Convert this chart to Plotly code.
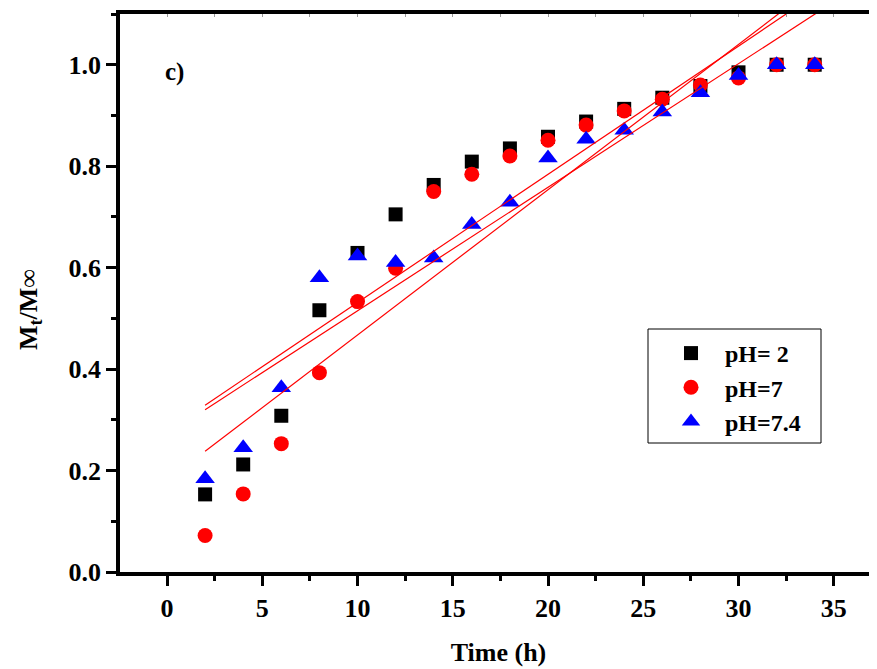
import plotly.graph_objects as go

# ---- data ----
time_h = [2, 4, 6, 8, 10, 12, 14, 16, 18, 20, 22, 24, 26, 28, 30, 32, 34]
ph2 = [0.153, 0.212, 0.308, 0.516, 0.629, 0.705, 0.763, 0.809, 0.835, 0.858,
       0.888, 0.913, 0.935, 0.958, 0.985, 1.0, 1.0]
ph7 = [0.072, 0.154, 0.253, 0.393, 0.533, 0.599, 0.750, 0.784, 0.820, 0.851,
       0.881, 0.909, 0.932, 0.960, 0.974, 1.0, 1.0]
ph74 = [0.184, 0.245, 0.363, 0.580, 0.623, 0.610, 0.619, 0.685, 0.729, 0.816,
        0.853, 0.871, 0.907, 0.945, 0.979, 1.0, 1.0]

series_names = ["pH= 2", "pH=7", "pH=7.4"]
series_colors = ["#000000", "#FF0000", "#0000FF"]
series_symbols = ["square", "circle", "triangle-up"]
series_sizes = [14, 15, 17]

# linear fit lines (intercept, slope), drawn from t=2 onward
fit_intercepts = [0.2784, 0.2713, 0.1807]
fit_slopes = [0.02528, 0.02436, 0.02865]
fit_x = [2, 36]

x_ticks = [0, 5, 10, 15, 20, 25, 30, 35]
y_ticks = [0.0, 0.2, 0.4, 0.6, 0.8, 1.0]

FONT = "Liberation Serif, Times New Roman, serif"

# figure geometry (page has an 8px body margin)
W, H = 869, 661
ML, MT, MB = 112, 6, 97
PW = W - ML
PH = H - MT - MB
PB = H - MB  # plot bottom in figure px


def px(xpix):
    return (xpix - 8 - ML) / PW


def py(ypix):
    return (PB - (ypix - 8)) / PH


fig = go.Figure()

for vals, name, col, sym, sz in zip([ph2, ph7, ph74], series_names, series_colors,
                                    series_symbols, series_sizes):
    fig.add_trace(go.Scatter(
        x=time_h, y=vals, mode="markers", name=name,
        marker=dict(symbol=sym, size=sz, color=col, line=dict(width=0)),
    ))

for b, m in zip(fit_intercepts, fit_slopes):
    fig.add_trace(go.Scatter(
        x=fit_x, y=[b + m * xx for xx in fit_x], mode="lines",
        line=dict(color="#FF0000", width=1.2), showlegend=False, hoverinfo="skip",
    ))

# dummy trace to create the top axis
fig.add_trace(go.Scatter(x=[None], y=[None], xaxis="x2", yaxis="y",
                         showlegend=False, hoverinfo="skip"))

xr = [-2.467, 37.27]
fig.update_layout(
    width=W, height=H,
    margin=dict(l=ML, r=0, t=MT, b=MB, pad=0),
    paper_bgcolor="white", plot_bgcolor="white",
    font=dict(family=FONT, size=25, color="black", weight="bold"),
    xaxis=dict(
        range=xr, tickvals=x_ticks, ticktext=[str(v) for v in x_ticks],
        showgrid=False, zeroline=False,
        showline=True, linewidth=3.5, linecolor="black",
        ticks="outside", ticklen=10, tickwidth=3, tickcolor="black",
        minor=dict(dtick=2.5, tick0=0, ticks="outside", ticklen=5, tickwidth=3,
                   tickcolor="black", showgrid=False),
        tickfont=dict(family=FONT, size=26, color="black", weight="bold"),
        title=dict(text="Time (h)", standoff=22,
                   font=dict(family=FONT, size=26, color="black", weight="bold")),
    ),
    xaxis2=dict(
        overlaying="x", side="top", anchor="y", range=xr,
        showgrid=False, zeroline=False, showticklabels=False,
        showline=True, linewidth=3.5, linecolor="black",
        ticks="inside", ticklen=3, tickwidth=1, tickcolor="#999999", dtick=2.5, tick0=0,
    ),
    yaxis=dict(
        range=[0, 1.1], tickvals=y_ticks, ticktext=[f"{v:.1f}" for v in y_ticks],
        showgrid=False, zeroline=False,
        showline=True, linewidth=3.5, linecolor="black",
        ticks="outside", ticklen=10, tickwidth=3, tickcolor="black",
        minor=dict(dtick=0.1, tick0=0, ticks="outside", ticklen=5, tickwidth=3,
                   tickcolor="black", showgrid=False),
        tickfont=dict(family=FONT, size=26, color="black", weight="bold"),
    ),
    legend=dict(
        x=px(657), y=py(331), xanchor="left", yanchor="top",
        bgcolor="rgba(0,0,0,0)", borderwidth=0, itemwidth=58,
        font=dict(family=FONT, size=24, color="black", weight="bold"),
        tracegroupgap=0,
    ),
    showlegend=True,
    shapes=[dict(type="rect", xref="paper", yref="paper",
                 x0=px(648), x1=px(821), y0=py(443), y1=py(329),
                 line=dict(color="black", width=1), fillcolor="rgba(0,0,0,0)")],
    annotations=[
        dict(text="c)", x=0.37, y=0.986, xref="x", yref="y", showarrow=False,
             xanchor="center", yanchor="middle",
             font=dict(family=FONT, size=25, color="black", weight="bold")),
        dict(text="M<sub>t</sub>/M∞", x=px(30), y=py(310),
             xref="paper", yref="paper", showarrow=False, textangle=-90,
             xanchor="center", yanchor="middle",
             font=dict(family=FONT, size=26, color="black", weight="bold")),
    ],
)

fig.write_html("out.html")
